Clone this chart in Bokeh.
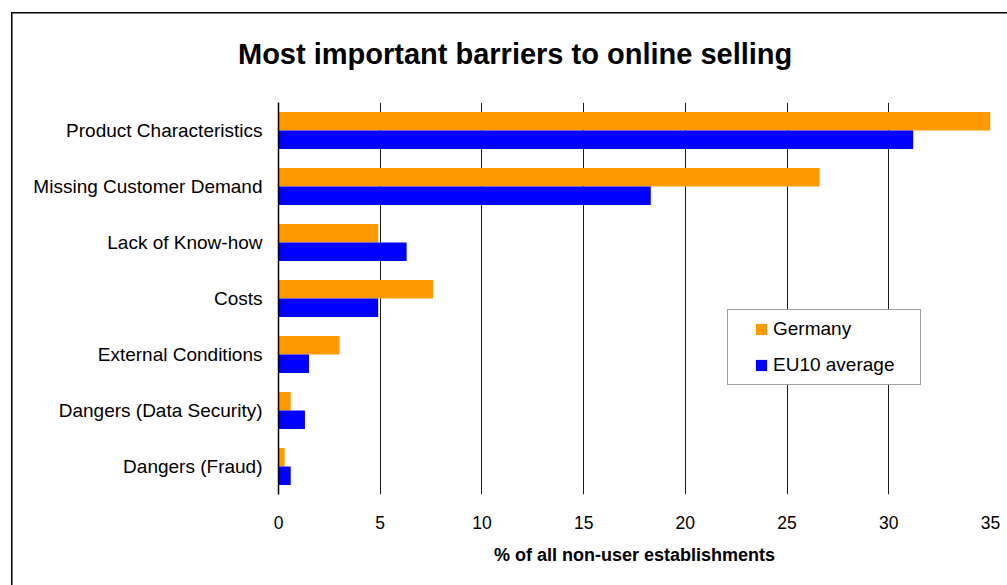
from bokeh.plotting import figure
from bokeh.models import Range1d, FactorRange, Title, ColumnDataSource
from bokeh.transform import dodge
from bokeh.embed import file_html
from bokeh.resources import INLINE

categories = ["Product Characteristics", "Missing Customer Demand", "Lack of Know-how",
              "Costs", "External Conditions", "Dangers (Data Security)", "Dangers (Fraud)"]
germany = [35.0, 26.6, 4.9, 7.6, 3.0, 0.6, 0.3]
eu10 = [31.2, 18.3, 6.3, 4.9, 1.5, 1.3, 0.6]
series_names = ["Germany", "EU10 average"]
x_ticks = [0, 5, 10, 15, 20, 25, 30, 35]
title_text = "Most important barriers to online selling"
x_label = "% of all non-user establishments"

FONT = "Liberation Sans"

src = ColumnDataSource(dict(cat=categories, germany=germany, eu10=eu10))

p = figure(width=1007, height=585, title=None,
           y_range=FactorRange(factors=categories[::-1]),
           x_range=Range1d(0, 35),
           output_backend="svg", toolbar_location=None,
           min_border_left=278, min_border_right=17,
           min_border_top=102, min_border_bottom=91)

p.hbar(y=dodge('cat', 0.165, range=p.y_range), right='germany', left=0, height=0.33,
       fill_color="#FF9900", line_color=None, source=src, legend_label=series_names[0])
p.hbar(y=dodge('cat', -0.165, range=p.y_range), right='eu10', left=0, height=0.33,
       fill_color="#0000FF", line_color=None, source=src, legend_label=series_names[1])

p.outline_line_color = None
p.background_fill_color = "white"
p.border_fill_alpha = 0
p.styles = {
    "background-color": "white",
    "background-image": "linear-gradient(#000, #000), linear-gradient(#000, #000)",
    "background-size": "1.5px 100%, 100% 1.5px",
    "background-position": "11px 12px, 11px 12px",
    "background-repeat": "no-repeat",
}

p.ygrid.visible = False
p.xgrid.grid_line_color = "#1a1a1a"
p.xgrid.grid_line_width = 1
p.xaxis.ticker = x_ticks

p.xaxis.axis_line_color = None
p.xaxis.major_tick_line_color = None
p.xaxis.minor_tick_line_color = None
p.xaxis.major_label_text_font = FONT
p.xaxis.major_label_text_font_size = "17.5px"
p.xaxis.major_label_text_color = "black"
p.xaxis.major_label_standoff = 15
p.xaxis.axis_label = x_label
p.xaxis.axis_label_text_font = FONT
p.xaxis.axis_label_text_font_size = "18px"
p.xaxis.axis_label_text_font_style = "bold"
p.xaxis.axis_label_text_color = "black"
p.xaxis.axis_label_standoff = 13

p.yaxis.axis_line_color = "black"
p.yaxis.axis_line_width = 1.5
p.yaxis.major_tick_line_color = None
p.yaxis.minor_tick_line_color = None
p.yaxis.major_label_text_font = FONT
p.yaxis.major_label_text_font_size = "19px"
p.yaxis.major_label_text_color = "black"
p.yaxis.major_label_standoff = 10

leg = p.legend[0]
leg.location = (449, 109)
leg.margin = 0
leg.padding = 8
leg.spacing = 14
leg.glyph_width = 14
leg.glyph_height = 14
leg.label_standoff = 5
leg.label_width = 139
leg.label_text_font = FONT
leg.label_text_font_size = "19px"
leg.label_text_color = "black"
leg.border_line_color = "#404040"
leg.border_line_width = 1
leg.background_fill_color = "white"
leg.background_fill_alpha = 1
leg.title = " "
leg.title_location = "left"
leg.title_text_font_size = "14px"
leg.title_standoff = 2

title = Title(text=title_text, align="left", offset=-40.5, standoff=66,
              text_font=FONT, text_font_size="29px", text_font_style="bold",
              text_color="black")
p.add_layout(title, "above")

open("out.html", "w").write(file_html(p, INLINE))
